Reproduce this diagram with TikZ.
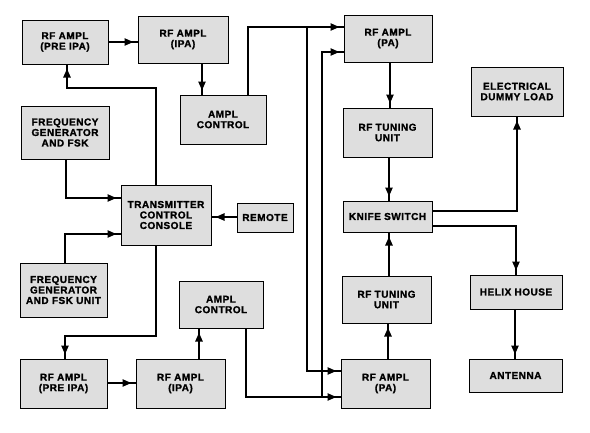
\documentclass[tikz,border=0pt]{standalone}
\usepackage{fontspec}
\newfontfamily\blkfont[LetterSpace=5,FakeBold=1.5]{Liberation Sans Bold}
\usetikzlibrary{arrows.meta,decorations.markings}
\definecolor{blkgray}{RGB}{222,222,222}

\begin{document}
\begin{tikzpicture}[x=1pt, y=-1pt,
	blk/.style={draw=black, line width=1pt, fill=blkgray, inner sep=0pt, align=center, font=\blkfont\fontsize{10}{10.5}\selectfont},
	wire/.style={line width=2.8pt, postaction={decorate}, decoration={markings, mark=at position -4pt with {\arrow{Triangle[length=9pt,width=7pt]}}}}]
		%%%%% START %%%%%
		\useasboundingbox (0, 0) rectangle (590, 432);
		
		\node[blk, minimum width=86pt, minimum height=44pt] (preA) at (65, 42) {RF AMPL\\(PRE IPA)};
		\node[blk, minimum width=90pt, minimum height=47pt] (ipaA) at (183, 39.5) {RF AMPL\\(IPA)};
		\node[blk, minimum width=86pt, minimum height=49pt] (ctlA) at (223, 119.5) {AMPL\\CONTROL};
		\node[blk, minimum width=88pt, minimum height=53pt] (fgA) at (65, 132.5) {FREQUENCY\\GENERATOR\\AND FSK};
		\node[blk, minimum width=90pt, minimum height=60pt] (tcc) at (166, 215) {TRANSMITTER\\CONTROL\\CONSOLE};
		\node[blk, minimum width=56pt, minimum height=29pt] (remote) at (265, 217.5) {REMOTE};
		\node[blk, minimum width=87pt, minimum height=54pt] (fgB) at (63.5, 290) {FREQUENCY\\GENERATOR\\AND FSK UNIT};
		\node[blk, minimum width=84pt, minimum height=47pt] (ctlB) at (221, 304.5) {AMPL\\CONTROL};
		\node[blk, minimum width=87pt, minimum height=49pt] (preB) at (63.5, 383.5) {RF AMPL\\(PRE IPA)};
		\node[blk, minimum width=89pt, minimum height=49pt] (ipaB) at (180.5, 383.5) {RF AMPL\\(IPA)};
		
		\node[blk, minimum width=88pt, minimum height=47pt] (paA) at (388, 38.5) {RF AMPL\\(PA)};
		\node[blk, minimum width=89pt, minimum height=49pt] (tunA) at (387.5, 132.5) {RF TUNING\\UNIT};
		\node[blk, minimum width=89pt, minimum height=31pt] (knife) at (387.5, 216.5) {KNIFE SWITCH};
		\node[blk, minimum width=89pt, minimum height=47pt] (tunB) at (386.5, 299.5) {RF TUNING\\UNIT};
		\node[blk, minimum width=89pt, minimum height=49pt] (paB) at (385.5, 383.5) {RF AMPL\\(PA)};
		\node[blk, minimum width=92pt, minimum height=49pt] (dummy) at (517, 91.5) {ELECTRICAL\\DUMMY LOAD};
		\node[blk, minimum width=92pt, minimum height=34pt] (helix) at (516, 292) {HELIX HOUSE};
		\node[blk, minimum width=93pt, minimum height=33pt] (antenna) at (515.5, 375.5) {ANTENNA};
		
		\coordinate (jA) at (307, 27);
		\coordinate (jB) at (322, 397);
		
		\draw[wire] (preA.east |- 0,42) -- (ipaA.west |- 0,42);
		\draw[wire] (ipaA.south -| 202,0) -- (ctlA.north -| 202,0);
		\draw[wire] (ctlA.north -| 248,0) |- (paA.west |- jA);
		\draw[wire] (jA) |- (paB.west |- 0,371);
		\draw[wire] (ctlB.south -| 246,0) |- (paB.west |- jB);
		\draw[wire] (jB) |- (paA.west |- 0,52);
		
		\draw[wire] (tcc.north -| 156,0) -- (156, 88) -| (preA.south -| 67,0);
		\draw[wire] (fgA.south -| 66,0) |- (tcc.west |- 0,198);
		\draw[wire] (remote.west |- 0,217) -- (tcc.east |- 0,217);
		\draw[wire] (fgB.north -| 65,0) |- (tcc.west |- 0,234);
		\draw[wire] (tcc.south -| 156,0) -- (156, 336) -| (preB.north -| 65,0);
		\draw[wire] (preB.east |- 0,383) -- (ipaB.west |- 0,383);
		\draw[wire] (ipaB.north -| 199,0) -- (ctlB.south -| 199,0);
		
		\draw[wire] (paA.south -| 390,0) -- (tunA.north -| 390,0);
		\draw[wire] (tunA.south -| 389,0) -- (knife.north -| 389,0);
		\draw[wire] (paB.north -| 388,0) -- (tunB.south -| 388,0);
		\draw[wire] (tunB.north -| 389,0) -- (knife.south -| 389,0);
		\draw[wire] (knife.east |- 0,211) -| (dummy.south -| 517,0);
		\draw[wire] (knife.east |- 0,226) -| (helix.north -| 516,0);
		\draw[wire] (helix.south -| 515,0) -- (antenna.north -| 515,0);
		%%%%% END %%%%%
\end{tikzpicture}
\end{document}
